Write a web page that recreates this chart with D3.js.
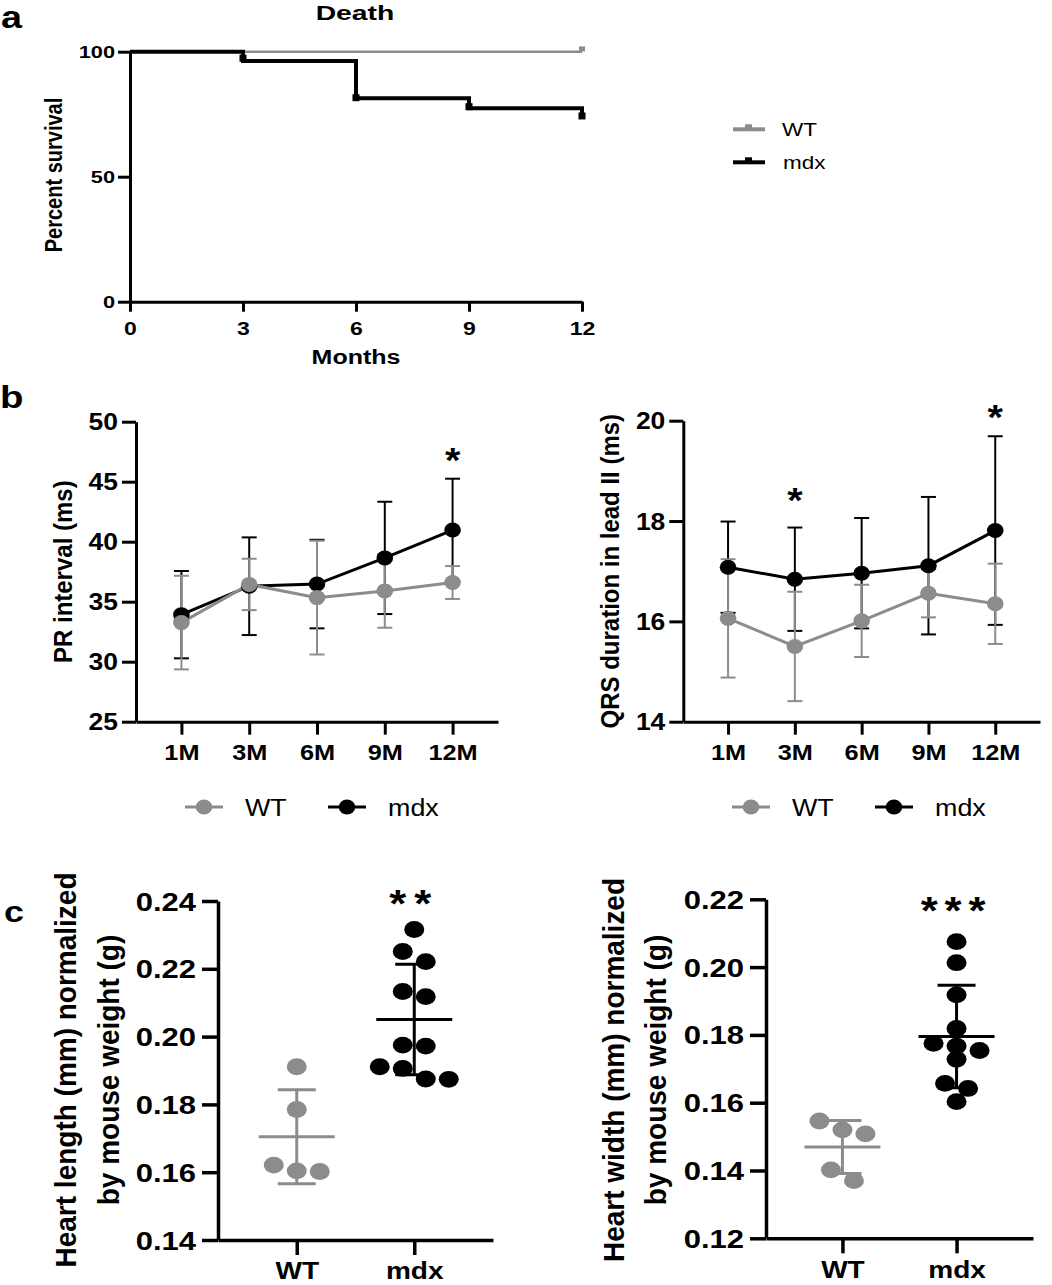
<!DOCTYPE html>
<html>
<head>
<meta charset="utf-8">
<script src="https://cdn.jsdelivr.net/npm/d3@7"></script>
<style>
  body { margin: 0; background: #fff; }
  svg { display: block; }
  text { font-family: "Liberation Sans", Arial, sans-serif; }
</style>
</head>
<body>
<svg id="fig" width="1052" height="1285"></svg>
<script>
// ── Data ─────────────────────────────────────────────────────────────────────
// a: survival
const monthsA          = [0, 3, 6, 9, 12];
const survWT           = [100, 100, 100, 100, 100];
const survMdx          = [100, 96.3, 81.4, 77.4, 74.3];
const censorWTMonths   = [12];
const censorWT         = [101.1];
const censorMdxMonths  = [3, 6, 9, 12];
const censorMdx        = [97.4, 81.6, 78.0, 74.3];
const survTicks        = [0, 50, 100];

// b: ECG
const ages      = ["1M", "3M", "6M", "9M", "12M"];
const prWT      = [33.26, 36.44, 35.34, 35.9, 36.6];
const prWTsd    = [3.9, 2.14, 4.74, 3.07, 1.37];
const prMdx     = [33.92, 36.29, 36.47, 38.65, 40.97];
const prMdxSd   = [3.64, 4.07, 3.69, 4.68, 4.28];
const prTicks   = [25, 30, 35, 40, 45, 50];
const prSigAges = ["12M"];
const prSigAt   = [47.5];

const qrsWT      = [16.06, 15.5, 16.01, 16.56, 16.35];
const qrsWTsd    = [1.18, 1.09, 0.72, 0.48, 0.8];
const qrsMdx     = [17.08, 16.84, 16.96, 17.11, 17.81];
const qrsMdxSd   = [0.91, 1.03, 1.1, 1.37, 1.88];
const qrsTicks   = [14, 16, 18, 20];
const qrsSigAges = ["3M", "12M"];
const qrsSigAt   = [18.58, 20.25];

// c: heart size
const groups    = ["WT", "mdx"];
const lenWT     = [0.1911, 0.1785, 0.1621, 0.1604, 0.1602];
const lenMdx    = [0.2316, 0.2251, 0.2221, 0.2133, 0.2118, 0.1975, 0.1972, 0.1911, 0.1906, 0.1874, 0.1875];
const lenTicks  = [0.14, 0.16, 0.18, 0.20, 0.22, 0.24];
const widWT     = [0.1546, 0.1520, 0.1508, 0.1402, 0.1370];
const widMdx    = [0.2075, 0.2013, 0.1918, 0.1819, 0.1775, 0.1767, 0.1754, 0.1728, 0.1657, 0.1642, 0.1603];
const widTicks  = [0.12, 0.14, 0.16, 0.18, 0.20, 0.22];

const legendNames = ["WT", "mdx"];

// ── Helpers ──────────────────────────────────────────────────────────────────
const GRAY  = "#8c8c8c";
const BLACK = "#000";
const legendColors = [GRAY, BLACK];
const svg = d3.select("#fig");

// the original figure is stretched sideways a bit, so text gets an x scale
function label(g, x, y, str, o = {}) {
  const sx = o.sx || 1;
  const tf = o.rotate
    ? `translate(${x},${y}) rotate(-90) scale(1,${sx})`
    : `translate(${x},${y}) scale(${sx},1)`;
  return g.append("text")
    .attr("transform", tf)
    .attr("font-size", o.size || 20)
    .attr("font-weight", o.weight || "bold")
    .attr("text-anchor", o.anchor || "start")
    .attr("letter-spacing", o.ls || null)
    .attr("dy", o.dy || null)
    .attr("fill", o.fill || BLACK)
    .text(str);
}

function styleAxis(ag, o) {
  ag.attr("font-family", null).attr("font-size", null);
  ag.select(".domain").attr("stroke-width", o.lw).attr("stroke", BLACK);
  ag.selectAll(".tick line").attr("stroke-width", o.lw).attr("stroke", BLACK);
  const t = ag.selectAll(".tick text")
    .attr("font-size", o.size)
    .attr("font-weight", "bold")
    .attr("fill", BLACK)
    .attr("transform", `scale(${o.sx},1)`);
  if (o.left) t.attr("x", -o.pad / o.sx).attr("dy", "0.36em");
  else t.attr("y", o.pad).attr("dy", 0);
}

// rows of near-equal values are spread sideways, like a column scatter
function swarm(values, y, rowGap, spacing) {
  const pts = values.map(v => ({ v, py: y(v) })).sort((a, b) => a.py - b.py);
  const rows = [];
  pts.forEach(p => {
    const r = rows[rows.length - 1];
    if (r && p.py - r[0].py <= rowGap) r.push(p); else rows.push([p]);
  });
  rows.forEach(r => r.forEach((p, i) => { p.dx = (i - (r.length - 1) / 2) * spacing; }));
  return pts;
}

// ── Panel letters ────────────────────────────────────────────────────────────
label(svg, 1, 28, "a", { size: 31, sx: 1.22 });
label(svg, 0, 408, "b", { size: 32, sx: 1.2 });
label(svg, 4, 922, "c", { size: 30, sx: 1.2 });

// ── a: Kaplan–Meier ──────────────────────────────────────────────────────────
(function () {
  const g = svg.append("g");
  const x = d3.scaleLinear().domain([0, 12]).range([130, 582]);
  const y = d3.scaleLinear().domain([0, 100]).range([301.7, 51.7]);

  const step = d3.line().curve(d3.curveStepAfter)
    .x((d, i) => x(monthsA[i])).y(d => y(d));

  g.append("path").attr("d", step(survWT))
    .attr("fill", "none").attr("stroke", GRAY).attr("stroke-width", 2.5);
  g.append("path").attr("d", step(survMdx))
    .attr("fill", "none").attr("stroke", BLACK).attr("stroke-width", 4);

  // censor marks
  g.selectAll(".cw").data(censorWT).enter().append("rect")
    .attr("x", (d, i) => x(censorWTMonths[i]) - 3).attr("y", d => y(d) - 2.5)
    .attr("width", 6).attr("height", 5).attr("fill", GRAY);
  g.selectAll(".cm").data(censorMdx).enter().append("rect")
    .attr("x", (d, i) => x(censorMdxMonths[i]) - 3.5).attr("y", d => y(d) - 3.5)
    .attr("width", 7).attr("height", 7).attr("fill", BLACK);

  const ay = g.append("g").attr("transform", `translate(${x(0)},0)`)
    .call(d3.axisLeft(y).tickValues(survTicks).tickFormat(d3.format("d")).tickSize(12).tickSizeOuter(0));
  styleAxis(ay, { lw: 3, size: 17, sx: 1.28, pad: 15, left: true });
  const ax = g.append("g").attr("transform", `translate(0,${y(0)})`)
    .call(d3.axisBottom(x).tickValues(monthsA).tickFormat(d3.format("d")).tickSize(10).tickSizeOuter(0));
  styleAxis(ax, { lw: 3, size: 18, sx: 1.28, pad: 33 });

  label(g, 355, 20, "Death", { size: 21, sx: 1.35, anchor: "middle" });
  label(g, 356, 364, "Months", { size: 20, sx: 1.25, anchor: "middle" });
  label(g, 62, 175, "Percent survival", { size: 20, sx: 1.15, anchor: "middle", rotate: true });

  // legend
  const lg = g.selectAll(".leg").data(legendNames).enter().append("g")
    .attr("transform", (d, i) => `translate(733,${129.3 + i * 33})`);
  lg.append("line").attr("x1", 0).attr("x2", 32)
    .attr("stroke", (d, i) => legendColors[i]).attr("stroke-width", 4);
  lg.append("rect").attr("x", 12).attr("y", -5).attr("width", 7).attr("height", 4)
    .attr("fill", (d, i) => legendColors[i]);
  lg.each(function (d) {
    label(d3.select(this), d === "WT" ? 49 : 50, 6.5, d, { size: 18, sx: 1.25, weight: "normal" });
  });
})();

// ── b: line charts with SD ───────────────────────────────────────────────────
function linePanel(o) {
  const g = svg.append("g");
  const x = d3.scalePoint().domain(ages).range([o.x0, o.x1]).padding(0.67);
  const y = d3.scaleLinear().domain(o.domain).range([o.yBot, o.yTop]);

  const series = [
    { mean: o.mdx, sd: o.mdxSd, color: BLACK },
    { mean: o.wt,  sd: o.wtSd,  color: GRAY  },
  ];

  // error bars first, then lines, then dots
  series.forEach(s => {
    const eb = g.append("g").attr("stroke", s.color).attr("stroke-width", 2);
    ages.forEach((a, i) => {
      const lo = y(s.mean[i] - s.sd[i]), hi = y(s.mean[i] + s.sd[i]);
      eb.append("line").attr("x1", x(a)).attr("x2", x(a)).attr("y1", lo).attr("y2", hi);
      eb.append("line").attr("x1", x(a) - 7.5).attr("x2", x(a) + 7.5).attr("y1", lo).attr("y2", lo);
      eb.append("line").attr("x1", x(a) - 7.5).attr("x2", x(a) + 7.5).attr("y1", hi).attr("y2", hi);
    });
  });
  const line = d3.line().x((d, i) => x(ages[i])).y(d => y(d));
  series.forEach(s => {
    g.append("path").attr("d", line(s.mean))
      .attr("fill", "none").attr("stroke", s.color).attr("stroke-width", 3);
  });
  series.forEach(s => {
    g.append("g").selectAll("ellipse").data(s.mean).enter().append("ellipse")
      .attr("cx", (d, i) => x(ages[i])).attr("cy", d => y(d))
      .attr("rx", 8.3).attr("ry", 7.5).attr("fill", s.color);
  });

  const ay = g.append("g").attr("transform", `translate(${o.x0},0)`)
    .call(d3.axisLeft(y).tickValues(o.ticks).tickFormat(d3.format("d")).tickSize(14).tickSizeOuter(0));
  styleAxis(ay, { lw: 3, size: 23, sx: 1.15, pad: 18, left: true });
  const ax = g.append("g").attr("transform", `translate(0,${o.yBot})`)
    .call(d3.axisBottom(x).tickSize(13).tickSizeOuter(0));
  styleAxis(ax, { lw: 3, size: 22, sx: 1.15, pad: 38 });

  label(g, o.labelX, (o.yTop + o.yBot) / 2, o.ylabel,
        { size: 24, sx: 1.1, anchor: "middle", rotate: true });

  o.sigAges.forEach((a, i) => {
    label(g, x(a), y(o.sigAt[i]), "*", { size: 36, sx: 1.1, anchor: "middle", dy: "0.57em" });
  });

  // legend under the plot
  const lg = g.selectAll(".leg").data(legendNames).enter().append("g")
    .attr("transform", (d, i) => `translate(${o.legX + i * 143},807)`);
  lg.append("line").attr("x1", 0).attr("x2", 38)
    .attr("stroke", (d, i) => legendColors[i]).attr("stroke-width", 3);
  lg.append("ellipse").attr("cx", 19).attr("rx", 8.3).attr("ry", 7.5)
    .attr("fill", (d, i) => legendColors[i]);
  lg.each(function (d) {
    label(d3.select(this), 60, 8.5, d, { size: 24, sx: 1.12, weight: "normal" });
  });
}

linePanel({
  x0: 136, x1: 498, yTop: 421.7, yBot: 721.7, domain: [25, 50], ticks: prTicks,
  wt: prWT, wtSd: prWTsd, mdx: prMdx, mdxSd: prMdxSd,
  ylabel: "PR interval (ms)", labelX: 72, sigAges: prSigAges, sigAt: prSigAt, legX: 185,
});
linePanel({
  x0: 683.3, x1: 1040, yTop: 420.7, yBot: 721.7, domain: [14, 20], ticks: qrsTicks,
  wt: qrsWT, wtSd: qrsWTsd, mdx: qrsMdx, mdxSd: qrsMdxSd,
  ylabel: "QRS duration in lead II (ms)", labelX: 619, sigAges: qrsSigAges, sigAt: qrsSigAt, legX: 732,
});

// ── c: column scatter with mean ± SD ─────────────────────────────────────────
function scatterPanel(o) {
  const g = svg.append("g");
  const x = d3.scalePoint().domain(groups).range([o.x0, o.x1]).padding(0.67);
  const y = d3.scaleLinear().domain(o.domain).range([o.yBot, o.yTop]);

  const sets = [
    { vals: o.wt,  color: GRAY,  grp: "WT"  },
    { vals: o.mdx, color: BLACK, grp: "mdx" },
  ];

  sets.forEach(s => {
    const pts = swarm(s.vals, y, 14, 23);
    g.append("g").selectAll("ellipse").data(pts).enter().append("ellipse")
      .attr("cx", d => x(s.grp) + d.dx).attr("cy", d => d.py)
      .attr("rx", 10).attr("ry", 8.4).attr("fill", s.color);

    const m = d3.mean(s.vals), sd = d3.deviation(s.vals);
    const cx = x(s.grp);
    const bar = g.append("g").attr("stroke", s.color).attr("stroke-width", 3);
    bar.append("line").attr("x1", cx).attr("x2", cx).attr("y1", y(m - sd)).attr("y2", y(m + sd));
    bar.append("line").attr("x1", cx - 38).attr("x2", cx + 38).attr("y1", y(m)).attr("y2", y(m));
    [m - sd, m + sd].forEach(v => {
      bar.append("line").attr("x1", cx - 19).attr("x2", cx + 19).attr("y1", y(v)).attr("y2", y(v));
    });
  });

  const ay = g.append("g").attr("transform", `translate(${o.x0},0)`)
    .call(d3.axisLeft(y).tickValues(o.ticks).tickFormat(d3.format(".2f")).tickSize(16).tickSizeOuter(0));
  styleAxis(ay, { lw: 3.5, size: 25, sx: 1.24, pad: 22, left: true });
  const ax = g.append("g").attr("transform", `translate(0,${o.yBot})`)
    .call(d3.axisBottom(x).tickSize(15).tickSizeOuter(0));
  styleAxis(ax, { lw: 3.5, size: 23, sx: 1.22, pad: o.xPad });

  const cy = 1070;
  label(g, o.labelX[0], cy, o.ylabel[0], { size: 28, sx: 1.08, anchor: "middle", rotate: true });
  label(g, o.labelX[1], cy, o.ylabel[1], { size: 28, sx: 1.08, anchor: "middle", rotate: true });

  label(g, x("mdx"), y(o.sigAt), o.sig,
        { size: 38, sx: 1.15, anchor: "middle", dy: "0.57em", ls: o.sig.length > 2 ? 6 : 7 });
}

scatterPanel({
  x0: 218, x1: 493, yTop: 901, yBot: 1240, domain: [0.14, 0.24], ticks: lenTicks,
  wt: lenWT, mdx: lenMdx, xPad: 39,
  ylabel: ["Heart length (mm) normalized", "by mouse weight (g)"], labelX: [76, 119],
  sig: "**", sigAt: 0.2418,
});
scatterPanel({
  x0: 766, x1: 1033, yTop: 899.3, yBot: 1238.3, domain: [0.12, 0.22], ticks: widTicks,
  wt: widWT, mdx: widMdx, xPad: 40,
  ylabel: ["Heart width (mm) normalized", "by mouse weight (g)"], labelX: [624, 666],
  sig: "***", sigAt: 0.2192,
});
</script>
</body>
</html>
